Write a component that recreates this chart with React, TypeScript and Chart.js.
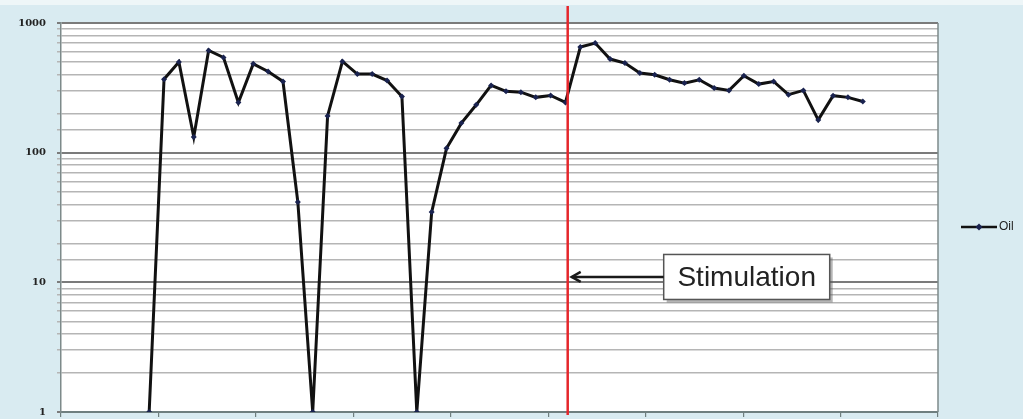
import React, { useEffect, useRef } from 'react';
import { Chart, registerables } from 'chart.js';

Chart.register(...registerables);

// Oil rate readings, one per sample (log scale)
const oilValues = [
  1, 369, 500, 132, 614, 542, 244, 484, 423, 354,
  41.6, 1, 192, 505, 404, 404, 360, 271, 1, 34.8,
  108, 169, 234, 330, 297, 293, 267, 276, 244, 652,
  700, 527, 491, 411, 399, 365, 344, 365, 315, 302,
  392, 338, 354, 280, 302, 179, 275, 267, 248,
];
const seriesName = 'Oil';
const yTickValues = [1, 10, 100, 1000];
const yTickLabels = ['1', '10', '100', '1000'];
const stimulationIndex = 28.15;
const stimulationLabel = 'Stimulation';
const stimulationArrowValue = 11;

// x axis layout (sample units)
const xMin = -5.93;
const xTickStep = 6.554;
const xTickCount = 9;

const decorPlugin = {
  id: 'decor',
  beforeDraw(chart: any) {
    const { ctx, chartArea: a, width, height } = chart;
    ctx.save();
    ctx.fillStyle = '#d9ebf1';
    ctx.fillRect(0, 0, width, height);
    ctx.fillStyle = '#eef6f8';
    ctx.fillRect(0, 0, width, 5);
    ctx.fillStyle = '#ffffff';
    ctx.fillRect(a.left, a.top, a.right - a.left, a.bottom - a.top);
    ctx.restore();
  },
  beforeDatasetsDraw(chart: any) {
    const { ctx, chartArea: a } = chart;
    ctx.save();
    ctx.strokeStyle = '#7d8a8a';
    ctx.lineWidth = 1.5;
    ctx.beginPath();
    ctx.moveTo(a.right, a.top);
    ctx.lineTo(a.right, a.bottom);
    ctx.stroke();
    ctx.restore();
  },
  afterDatasetsDraw(chart: any) {
    const { ctx, chartArea: a, scales } = chart;
    const rx = scales.x.getPixelForValue(stimulationIndex);
    const ay = scales.y.getPixelForValue(stimulationArrowValue);
    ctx.save();
    // red stimulation line
    ctx.strokeStyle = '#e5262b';
    ctx.lineWidth = 2.5;
    ctx.beginPath();
    ctx.moveTo(rx, 6);
    ctx.lineTo(rx, a.bottom + 3);
    ctx.stroke();

    // annotation box
    const bx = rx + 96;
    const bw = 166;
    const bh = 45;
    const by = ay - bh / 2;
    ctx.fillStyle = 'rgba(90,90,90,0.45)';
    ctx.fillRect(bx + 3, by + 3, bw, bh);
    ctx.fillStyle = '#ffffff';
    ctx.fillRect(bx, by, bw, bh);
    ctx.strokeStyle = '#555';
    ctx.lineWidth = 1.5;
    ctx.strokeRect(bx, by, bw, bh);
    ctx.fillStyle = '#222';
    ctx.font = '28px "Liberation Sans", Arial, sans-serif';
    ctx.textAlign = 'center';
    ctx.textBaseline = 'middle';
    ctx.fillText(stimulationLabel, bx + bw / 2, ay + 1);

    // arrow
    ctx.strokeStyle = '#1a1a1a';
    ctx.lineWidth = 2.5;
    ctx.beginPath();
    ctx.moveTo(bx, ay);
    ctx.lineTo(rx + 4, ay);
    ctx.stroke();
    ctx.beginPath();
    ctx.moveTo(rx + 13, ay - 5);
    ctx.lineTo(rx + 4, ay);
    ctx.lineTo(rx + 13, ay + 5);
    ctx.stroke();

    // legend
    const ly = 227;
    ctx.strokeStyle = '#111';
    ctx.lineWidth = 2.5;
    ctx.beginPath();
    ctx.moveTo(961, ly);
    ctx.lineTo(997, ly);
    ctx.stroke();
    ctx.fillStyle = '#1a2350';
    ctx.beginPath();
    ctx.moveTo(979, ly - 3.5);
    ctx.lineTo(982.5, ly);
    ctx.lineTo(979, ly + 3.5);
    ctx.lineTo(975.5, ly);
    ctx.closePath();
    ctx.fill();
    ctx.fillStyle = '#222';
    ctx.font = '12px "Liberation Sans", Arial, sans-serif';
    ctx.textAlign = 'left';
    ctx.textBaseline = 'middle';
    ctx.fillText(seriesName, 999, ly);
    ctx.restore();
  },
};

export default function App() {
  const ref = useRef<HTMLCanvasElement | null>(null);

  useEffect(() => {
    if (!ref.current) return;
    const isMajor = (v: number) => yTickValues.includes(v);
    const chart = new Chart(ref.current, {
      type: 'line',
      data: {
        datasets: [
          {
            label: seriesName,
            data: oilValues.map((v, i) => ({ x: i, y: v })),
            borderColor: '#111111',
            borderWidth: 3,
            pointStyle: 'rectRot',
            pointRadius: 3,
            pointBackgroundColor: '#1a2350',
            pointBorderColor: '#1a2350',
            pointBorderWidth: 0,
            tension: 0,
          },
        ],
      },
      options: {
        animation: false,
        responsive: false,
        maintainAspectRatio: false,
        layout: { padding: { top: 23, right: 85, bottom: 0, left: 0 } },
        plugins: {
          legend: { display: false },
          tooltip: { enabled: false },
        },
        scales: {
          x: {
            type: 'linear',
            min: xMin,
            max: xMin + xTickStep * xTickCount,
            afterBuildTicks: (scale: any) => {
              const t = [];
              for (let k = 0; k <= xTickCount; k++) t.push({ value: xMin + k * xTickStep });
              scale.ticks = t;
            },
            afterFit: (scale: any) => {
              scale.height = 7;
              scale.paddingLeft = 0;
              scale.paddingRight = 0;
            },
            ticks: { display: false },
            grid: {
              drawOnChartArea: false,
              drawTicks: true,
              tickLength: 5,
              color: '#6f7f7f',
              lineWidth: 1.2,
            },
            border: { display: true, color: '#6f7f7f', width: 2 },
          },
          y: {
            type: 'logarithmic',
            min: 1,
            max: 1000,
            afterFit: (scale: any) => {
              scale.width = 61;
              scale.paddingTop = 0;
              scale.paddingBottom = 0;
            },
            ticks: {
              autoSkip: false,
              padding: 11,
              color: '#222',
              font: { family: '"DejaVu Serif", "Liberation Serif", serif', size: 10, weight: 'bold' },
              callback: (value: any) => {
                const idx = yTickValues.indexOf(Number(value));
                return idx >= 0 ? yTickLabels[idx] : '';
              },
            },
            grid: {
              color: (ctx: any) => (ctx.tick && isMajor(ctx.tick.value) ? '#7b7b7b' : '#b5b5b5'),
              lineWidth: (ctx: any) => (ctx.tick && isMajor(ctx.tick.value) ? 2 : 1.5),
              tickLength: 4,
              drawTicks: true,
            },
            border: { display: true, color: '#7d8a8a', width: 1.5 },
          },
        },
      },
      plugins: [decorPlugin],
    });
    return () => chart.destroy();
  }, []);

  return (
    <div style={{ position: 'fixed', left: 0, top: 0, width: 1023, height: 419 }}>
      <canvas ref={ref} width={1023} height={419} style={{ display: 'block' }} />
    </div>
  );
}
